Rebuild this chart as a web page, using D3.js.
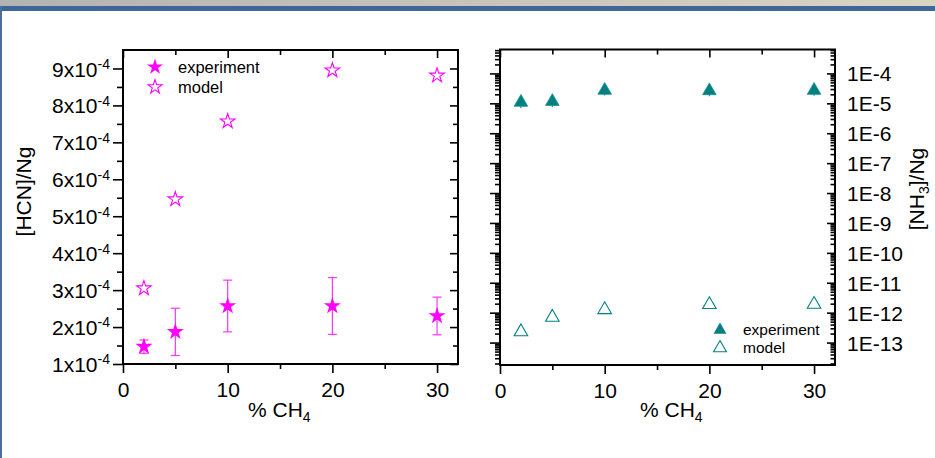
<!DOCTYPE html>
<html>
<head>
<meta charset="utf-8">
<script src="https://cdn.jsdelivr.net/npm/d3@7"></script>
<style>
  html, body { margin: 0; padding: 0; background: #fff; overflow: hidden; }
  text { font-family: "Liberation Sans", Arial, sans-serif; fill: #000; }
</style>
</head>
<body>
<svg id="chart" width="935" height="458"></svg>
<script>
// ---- data ----
const ch4 = [2, 5, 10, 20, 30];

const hcnExp = [1.47e-4, 1.87e-4, 2.57e-4, 2.57e-4, 2.30e-4];
const hcnExpErr = [0.18e-4, 0.64e-4, 0.70e-4, 0.77e-4, 0.51e-4];
const hcnModel = [3.05e-4, 5.46e-4, 7.57e-4, 8.95e-4, 8.81e-4];

const nh3Exp = [1.08e-5, 1.15e-5, 2.72e-5, 2.63e-5, 2.70e-5];
const nh3ExpErr = [0.4e-5, 0.4e-5, 0.9e-5, 0.9e-5, 0.9e-5];
const nh3Model = [2.3e-13, 7.0e-13, 1.26e-12, 1.86e-12, 1.9e-12];

const xMajor = [0, 10, 20, 30];
const xMinor = [5, 15, 25];
const xTickLabels = ["0", "10", "20", "30"];

const hcnTicks = [1e-4, 2e-4, 3e-4, 4e-4, 5e-4, 6e-4, 7e-4, 8e-4, 9e-4];
const hcnMinor = [1.5e-4, 2.5e-4, 3.5e-4, 4.5e-4, 5.5e-4, 6.5e-4, 7.5e-4, 8.5e-4];
const hcnTickMantissa = ["1", "2", "3", "4", "5", "6", "7", "8", "9"];
const hcnTickExponent = "-4";

const nh3Ticks = [1e-4, 1e-5, 1e-6, 1e-7, 1e-8, 1e-9, 1e-10, 1e-11, 1e-12, 1e-13];
const nh3TickLabels = ["1E-4", "1E-5", "1E-6", "1E-7", "1E-8", "1E-9", "1E-10", "1E-11", "1E-12", "1E-13"];

const legendLabels = ["experiment", "model"];

// ---- colours & type ----
const MAGENTA = "#ff00ff";
const MAGENTA_ERR = "#ff33ff";
const TEAL = "#008080";
const TEAL_LINE = "#1a9090";
const FS = 21;      // tick labels and axis titles
const FS_SUP = 14;  // super/subscripts

const svg = d3.select("#chart");

// ---- window chrome ----
const defs = svg.append("defs");
const grad = defs.append("linearGradient").attr("id", "hdr").attr("x1", 0).attr("x2", 1);
grad.append("stop").attr("offset", 0).attr("stop-color", "#b3b3b3");
grad.append("stop").attr("offset", 1).attr("stop-color", "#dcd4c3");
svg.append("rect").attr("width", 935).attr("height", 458).attr("fill", "#fff");
svg.append("rect").attr("x", 0).attr("y", 0).attr("width", 935).attr("height", 6).attr("fill", "url(#hdr)");
svg.append("rect").attr("x", 0).attr("y", 6).attr("width", 935).attr("height", 5).attr("fill", "#3f6699");
svg.append("rect").attr("x", 0).attr("y", 6).attr("width", 2).attr("height", 452).attr("fill", "#4a6f9f");

// ---- panel geometry ----
const L = { x0: 123, x1: 458, y0: 50, y1: 364 };
const R = { x0: 500, x1: 835, y0: 49.5, y1: 365 };

const xL = d3.scaleLinear().domain([0, 32]).range([L.x0, L.x1]);
const yL = d3.scaleLinear().domain([1e-4, 9.5e-4]).range([L.y1, L.y0]);
const xR = d3.scaleLinear().domain([0, 32]).range([R.x0, R.x1]);
const yR = d3.scaleLog().domain([Math.pow(10, -13.75), Math.pow(10, -3.2)]).range([R.y1, R.y0]);

// log minor ticks 2..9 per decade
const nh3Minor = [];
for (let e = -14; e <= -3; e++) {
  for (let k = 2; k <= 9; k++) {
    const v = k * Math.pow(10, e);
    if (v >= yR.domain()[0] && v <= yR.domain()[1]) nh3Minor.push(v);
  }
}

function styleAxis(g) {
  g.select(".domain").remove();
  g.selectAll(".tick line").attr("stroke", "#000").attr("stroke-width", 1.6);
}

function tickAxis(axisFn, scale, values, size, tx, ty) {
  const g = svg.append("g").attr("transform", `translate(${tx},${ty})`)
    .call(axisFn(scale).tickValues(values).tickSize(size).tickFormat(""));
  styleAxis(g);
  g.selectAll(".tick text").remove();
  return g;
}

function xAxes(P, x) {
  // bottom: outward, labelled
  const gb = svg.append("g").attr("transform", `translate(0,${P.y1})`)
    .call(d3.axisBottom(x).tickValues(xMajor).tickSize(9).tickFormat((d, i) => xTickLabels[i]));
  styleAxis(gb);
  gb.selectAll(".tick text").attr("dy", null).attr("y", 33).attr("font-size", FS);
  tickAxis(d3.axisBottom, x, xMinor, 5, 0, P.y1);
  // top: inward
  tickAxis(d3.axisTop, x, xMajor, -8, 0, P.y0);
  tickAxis(d3.axisTop, x, xMinor, -5, 0, P.y0);
}

// ================= left panel: HCN =================
xAxes(L, xL);
{
  const gl = svg.append("g").attr("transform", `translate(${L.x0},0)`)
    .call(d3.axisLeft(yL).tickValues(hcnTicks).tickSize(10).tickPadding(3).tickFormat(""));
  styleAxis(gl);
  gl.selectAll(".tick text").each(function (d, i) {
    const t = d3.select(this).attr("dy", "0.36em").attr("font-size", FS);
    t.append("tspan").text(hcnTickMantissa[i] + "x10");
    t.append("tspan").attr("dy", "-0.55em").attr("font-size", FS_SUP).text(hcnTickExponent);
  });
  tickAxis(d3.axisLeft, yL, hcnMinor, 6, L.x0, 0);
  tickAxis(d3.axisRight, yL, hcnTicks, -8, L.x1, 0);
  tickAxis(d3.axisRight, yL, hcnMinor, -5, L.x1, 0);
}
svg.append("rect").attr("x", L.x0).attr("y", L.y0).attr("width", L.x1 - L.x0).attr("height", L.y1 - L.y0)
  .attr("fill", "none").attr("stroke", "#000").attr("stroke-width", 2);

const star = d3.symbol().type(d3.symbolStar);

// experiment error bars
const errL = svg.append("g").attr("stroke", MAGENTA_ERR).attr("stroke-width", 1.2);
ch4.forEach((c, i) => {
  const x = xL(c), top = yL(hcnExp[i] + hcnExpErr[i]), bot = yL(hcnExp[i] - hcnExpErr[i]);
  errL.append("line").attr("x1", x).attr("x2", x).attr("y1", top).attr("y2", bot);
  errL.append("line").attr("x1", x - 4.5).attr("x2", x + 4.5).attr("y1", top).attr("y2", top);
  errL.append("line").attr("x1", x - 4.5).attr("x2", x + 4.5).attr("y1", bot).attr("y2", bot);
});
svg.append("g").selectAll("path").data(ch4).join("path")
  .attr("transform", (c, i) => `translate(${xL(c)},${yL(hcnModel[i])})`)
  .attr("d", star.size(66)()).attr("fill", "none").attr("stroke", MAGENTA).attr("stroke-width", 1.1);
svg.append("g").selectAll("path").data(ch4).join("path")
  .attr("transform", (c, i) => `translate(${xL(c)},${yL(hcnExp[i])})`)
  .attr("d", star.size(90)()).attr("fill", MAGENTA);

// legend
{
  const lg = svg.append("g");
  lg.append("path").attr("transform", "translate(155,67)").attr("d", star.size(80)()).attr("fill", MAGENTA);
  lg.append("path").attr("transform", "translate(155,87)").attr("d", star.size(62)())
    .attr("fill", "none").attr("stroke", MAGENTA).attr("stroke-width", 1.1);
  lg.append("text").attr("x", 178).attr("y", 73).attr("font-size", 16.5).text(legendLabels[0]);
  lg.append("text").attr("x", 178).attr("y", 93).attr("font-size", 16.5).text(legendLabels[1]);
}

// titles
svg.append("text").attr("transform", "translate(31,191.5) rotate(-90)").attr("text-anchor", "middle")
  .attr("font-size", FS).text("[HCN]/Ng");
{
  const t = svg.append("text").attr("x", 248).attr("y", 417).attr("font-size", FS);
  t.append("tspan").text("% CH");
  t.append("tspan").attr("dy", 5).attr("font-size", FS_SUP).text("4");
}

// ================= right panel: NH3 =================
xAxes(R, xR);
tickAxis(d3.axisLeft, yR, nh3Ticks, 10, R.x0, 0);
tickAxis(d3.axisLeft, yR, nh3Minor, 5, R.x0, 0);
{
  const gr = svg.append("g").attr("transform", `translate(${R.x1},0)`)
    .call(d3.axisRight(yR).tickValues(nh3Ticks).tickSize(-8).tickPadding(12)
      .tickFormat((d, i) => nh3TickLabels[i]));
  styleAxis(gr);
  gr.selectAll(".tick text").attr("dy", "0.36em").attr("font-size", FS);
  tickAxis(d3.axisRight, yR, nh3Minor, -4.5, R.x1, 0);
}
svg.append("rect").attr("x", R.x0).attr("y", R.y0).attr("width", R.x1 - R.x0).attr("height", R.y1 - R.y0)
  .attr("fill", "none").attr("stroke", "#000").attr("stroke-width", 2);

const tri = d3.symbol().type(d3.symbolTriangle);

const errR = svg.append("g").attr("stroke", TEAL_LINE).attr("stroke-width", 1.2);
ch4.forEach((c, i) => {
  const x = xR(c), top = yR(nh3Exp[i] + nh3ExpErr[i]), bot = yR(nh3Exp[i] - nh3ExpErr[i]);
  errR.append("line").attr("x1", x).attr("x2", x).attr("y1", top).attr("y2", bot);
});
svg.append("g").selectAll("path").data(ch4).join("path")
  .attr("transform", (c, i) => `translate(${xR(c)},${yR(nh3Exp[i])})`)
  .attr("d", tri.size(80)()).attr("fill", TEAL).attr("stroke", TEAL_LINE).attr("stroke-width", 0.8);
svg.append("g").selectAll("path").data(ch4).join("path")
  .attr("transform", (c, i) => `translate(${xR(c)},${yR(nh3Model[i])})`)
  .attr("d", tri.size(80)()).attr("fill", "none").attr("stroke", TEAL).attr("stroke-width", 1.1);

{
  const lg = svg.append("g");
  lg.append("path").attr("transform", "translate(720,330)").attr("d", tri.size(72)()).attr("fill", TEAL);
  lg.append("path").attr("transform", "translate(720,348)").attr("d", tri.size(72)())
    .attr("fill", "none").attr("stroke", TEAL).attr("stroke-width", 1.1);
  lg.append("text").attr("x", 743).attr("y", 335).attr("font-size", 15.5).text(legendLabels[0]);
  lg.append("text").attr("x", 743).attr("y", 353).attr("font-size", 15.5).text(legendLabels[1]);
}

svg.append("text").attr("transform", "translate(924,189) rotate(-90)").attr("text-anchor", "middle")
  .attr("font-size", FS)
  .call(t => {
    t.append("tspan").text("[NH");
    t.append("tspan").attr("dy", 5).attr("font-size", FS_SUP).text("3");
    t.append("tspan").attr("dy", -5).text("]/Ng");
  });
{
  const t = svg.append("text").attr("x", 640).attr("y", 417).attr("font-size", FS);
  t.append("tspan").text("% CH");
  t.append("tspan").attr("dy", 5).attr("font-size", FS_SUP).text("4");
}
</script>
</body>
</html>
